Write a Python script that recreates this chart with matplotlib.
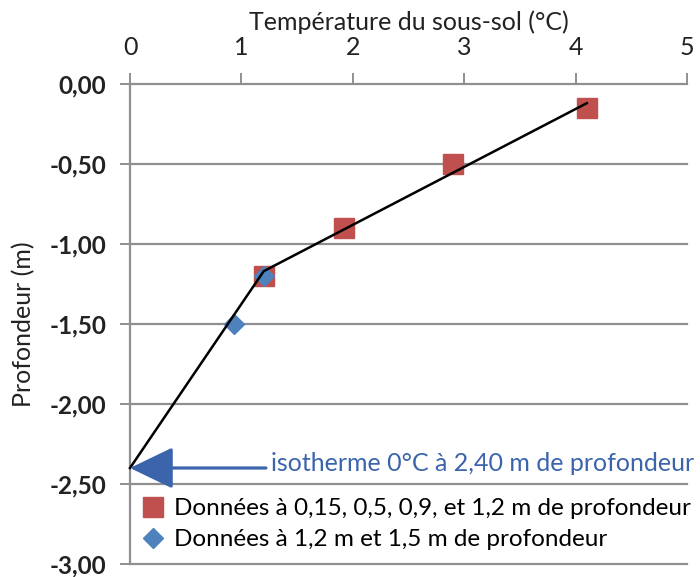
import matplotlib.pyplot as plt
from matplotlib.ticker import FixedLocator

plt.rcParams['font.family'] = ['Lato', 'DejaVu Sans']

# Données
temp_sq = [4.10, 2.90, 1.92, 1.20]
depth_sq = [-0.15, -0.50, -0.90, -1.20]
temp_dia = [1.20, 0.93]
depth_dia = [-1.20, -1.50]
line_temp = [4.10, 1.20, 0.00]
line_depth = [-0.12, -1.17, -2.40]

x_ticks = [0, 1, 2, 3, 4, 5]
y_ticks = [0.0, -0.5, -1.0, -1.5, -2.0, -2.5, -3.0]
y_labels = ["0,00", "-0,50", "-1,00", "-1,50", "-2,00", "-2,50", "-3,00"]

red = "#c0504d"
blue = "#4f81bd"
arrow_blue = "#3b64ad"
grid_col = "#8f8f8f"

fig = plt.figure(figsize=(7, 5.77), dpi=100)
ax = fig.add_axes([130 / 700, 1 - 564 / 577, 557 / 700, 480 / 577])

ax.set_xlim(0, 5)
ax.set_ylim(-3.0, 0.0)

for y in y_ticks:
    ax.axhline(y, color=grid_col, lw=1.6, zorder=1, clip_on=False)

ax.plot(temp_sq, depth_sq, linestyle="none", marker="s", ms=14, color=red,
        label="Données à 0,15, 0,5, 0,9, et 1,2 m de profondeur", zorder=3)
ax.plot(temp_dia, depth_dia, linestyle="none", marker="D", ms=10.5, color=blue,
        label="Données à 1,2 m et 1,5 m de profondeur", zorder=4)
ax.plot(line_temp, line_depth, color="black", lw=1.8, zorder=5, clip_on=False)

# flèche isotherme
ax.annotate("", xy=(0.0, -2.40), xytext=(1.22, -2.40),
            arrowprops=dict(arrowstyle="-|>,head_length=2.7,head_width=1.3",
                            color=arrow_blue, lw=2.3, shrinkA=0, shrinkB=0),
            zorder=6)
ax.text(1.27, -2.37, "isotherme 0°C à 2,40 m de profondeur", color=arrow_blue,
        fontsize=18, va="center", ha="left")

ax.xaxis.set_ticks_position("top")
ax.xaxis.set_label_position("top")
ax.xaxis.set_major_locator(FixedLocator(x_ticks))
ax.set_xticklabels([str(v) for v in x_ticks], fontsize=18, color="#222222")
ax.set_yticks(y_ticks)
ax.set_yticklabels(y_labels, fontsize=17.5, color="#222222", fontweight="bold")
ax.tick_params(axis="x", direction="out", length=8, width=1.4, color=grid_col, pad=10)
ax.tick_params(axis="y", direction="out", length=7, width=1.4, color=grid_col, pad=10)

ax.set_xlabel("Température du sous-sol (°C)", fontsize=18, color="#222222", labelpad=4)
ax.set_ylabel("Profondeur (m)", fontsize=18, color="#222222", labelpad=10)

for side in ["right", "bottom", "top"]:
    ax.spines[side].set_visible(False)
ax.spines["left"].set_color(grid_col)
ax.spines["left"].set_linewidth(1.6)

ax.legend(loc="upper left", bbox_to_anchor=(0.0, 0.162), frameon=False,
          fontsize=17.5, handlelength=0.9, handletextpad=0.4, labelspacing=0.4,
          borderaxespad=0.1)

fig.savefig("out.png", dpi=100)
